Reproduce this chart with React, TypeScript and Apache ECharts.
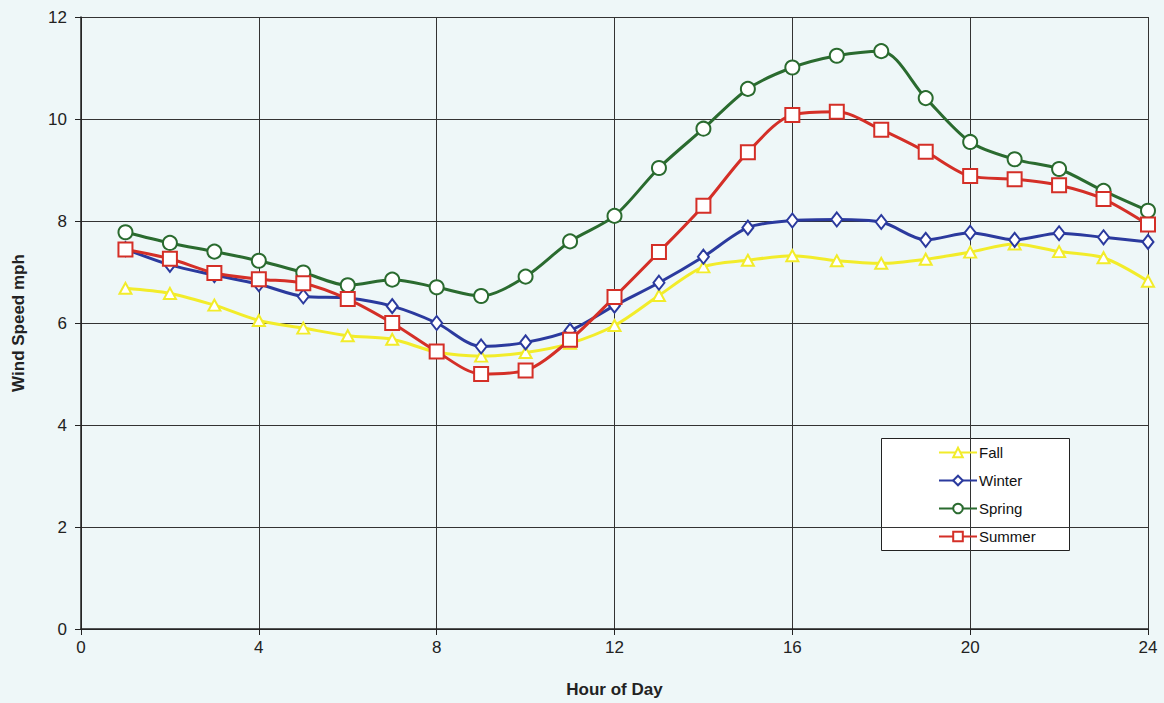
import React, { useEffect, useRef } from "react";
import * as echarts from "echarts";

const hours = [1, 2, 3, 4, 5, 6, 7, 8, 9, 10, 11, 12, 13, 14, 15, 16, 17, 18, 19, 20, 21, 22, 23, 24];
const fall = [6.68, 6.58, 6.35, 6.05, 5.9, 5.75, 5.68, 5.43, 5.35, 5.42, 5.6, 5.95, 6.54, 7.1, 7.23, 7.32, 7.22, 7.17, 7.25, 7.39, 7.55, 7.4, 7.28, 6.82];
const winter = [7.45, 7.14, 6.94, 6.76, 6.52, 6.49, 6.33, 6.0, 5.54, 5.62, 5.85, 6.34, 6.79, 7.3, 7.87, 8.01, 8.03, 7.98, 7.63, 7.77, 7.63, 7.76, 7.68, 7.59];
const spring = [7.78, 7.57, 7.4, 7.22, 6.99, 6.74, 6.85, 6.7, 6.53, 6.91, 7.6, 8.1, 9.04, 9.81, 10.59, 11.01, 11.24, 11.33, 10.41, 9.55, 9.21, 9.02, 8.59, 8.2];
const summer = [7.44, 7.26, 6.98, 6.86, 6.78, 6.47, 6.0, 5.44, 5.0, 5.07, 5.67, 6.51, 7.39, 8.3, 9.35, 10.08, 10.14, 9.79, 9.36, 8.88, 8.82, 8.7, 8.43, 7.93];
const seriesNames = ["Fall", "Winter", "Spring", "Summer"];
const xTicks = [0, 4, 8, 12, 16, 20, 24];
const yTicks = [0, 2, 4, 6, 8, 10, 12];

const colors = ["#f2ec2a", "#2b3a9e", "#2a6b2f", "#d42f27"];
const symbols = ["emptyTriangle", "emptyDiamond", "emptyCircle", "emptyRect"];
const symbolSizes = [[12, 11], [11, 14], [14, 14], [14, 14]];

export default function App() {
  const ref = useRef<HTMLDivElement>(null);
  useEffect(() => {
    if (!ref.current) return;
    const chart = echarts.init(ref.current, null, { renderer: "svg" });
    const data = [fall, winter, spring, summer];
    chart.setOption({
      animation: false,
      backgroundColor: "#eef7f8",
      textStyle: { fontFamily: "Liberation Sans, Arial, sans-serif" },
      grid: { left: 81, top: 17, width: 1067, height: 612, containLabel: false },
      xAxis: {
        type: "value",
        min: xTicks[0],
        max: xTicks[xTicks.length - 1],
        interval: 4,
        name: "Hour of Day",
        nameLocation: "middle",
        nameGap: 52,
        nameTextStyle: { fontSize: 17, fontWeight: "bold", color: "#222" },
        axisLine: { show: true, onZero: false, lineStyle: { color: "#222", width: 1.5 } },
        axisTick: { show: true, length: 6, lineStyle: { color: "#222" } },
        axisLabel: { fontSize: 17, color: "#222", margin: 10 },
        splitLine: { show: true, lineStyle: { color: "#333", width: 1 } },
      },
      yAxis: {
        type: "value",
        min: yTicks[0],
        max: yTicks[yTicks.length - 1],
        interval: 2,
        name: "Wind Speed mph",
        nameLocation: "middle",
        nameGap: 54,
        nameTextStyle: { fontSize: 17, fontWeight: "bold", color: "#222" },
        axisLine: { show: true, lineStyle: { color: "#222", width: 1.5 } },
        axisTick: { show: true, length: 6, lineStyle: { color: "#222" } },
        axisLabel: { fontSize: 17, color: "#222", margin: 14 },
        splitLine: { show: true, lineStyle: { color: "#333", width: 1 } },
      },
      legend: {
        orient: "vertical",
        left: 933,
        top: 440,
        itemWidth: 38,
        itemHeight: 12,
        itemGap: 13,
        textStyle: { fontSize: 15, color: "#111", padding: [0, 0, 0, -3] },
        data: seriesNames,
      },
      graphic: [
        {
          type: "rect",
          left: 881,
          top: 438,
          shape: { width: 188, height: 112 },
          style: { fill: "#ffffff", stroke: "#222", lineWidth: 1 },
          z: -1,
          zlevel: 0,
        },
      ],
      series: seriesNames.map((name, i) => ({
        name,
        type: "line",
        smooth: 0.3,
        data: hours.map((h, j) => [h, data[i][j]]),
        symbol: symbols[i],
        symbolSize: symbolSizes[i],
        showAllSymbol: true,
        lineStyle: { color: colors[i], width: 3 },
        itemStyle: { color: colors[i], borderWidth: 2 },
        z: 3 + i,
      })),
    });
    return () => chart.dispose();
  }, []);
  return (
    <div style={{ position: "absolute", left: 0, top: 0, width: 1164, height: 703, background: "#eef7f8" }}>
      <div ref={ref} style={{ width: 1164, height: 703 }} />
    </div>
  );
}
